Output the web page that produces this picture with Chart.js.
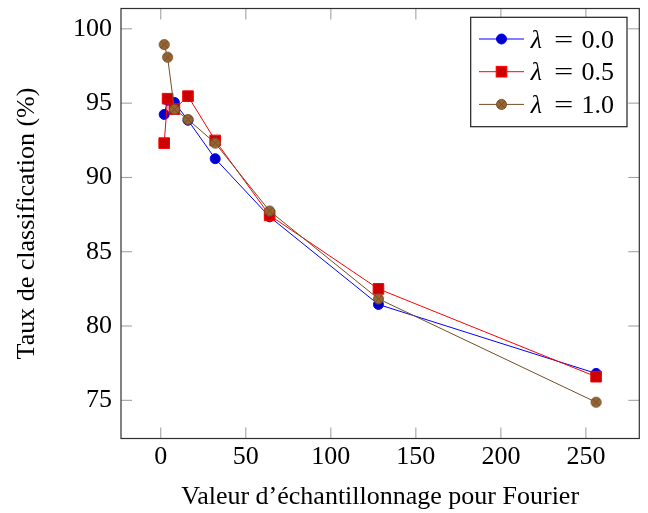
<!DOCTYPE html>
<html>
<head>
<meta charset="utf-8">
<script src="https://cdn.jsdelivr.net/npm/chart.js@4.4.1/dist/chart.umd.min.js"></script>
<style>
html,body{margin:0;padding:0;background:#fff;}
#wrap{width:648px;height:513px;}
</style>
</head>
<body>
<div id="wrap"><canvas id="c" width="648" height="513"></canvas></div>
<script>
const xValues = [2, 4, 8, 16, 32, 64, 128, 256];
const lambda00 = [94.24, 95.2, 95.05, 93.85, 91.26, 87.35, 81.45, 76.81];
const lambda05 = [92.31, 95.30, 94.6, 95.47, 92.49, 87.45, 82.50, 76.59];
const lambda10 = [98.94, 98.09, 94.58, 93.90, 92.31, 87.74, 81.83, 74.87];
const seriesLabels = ['λ = 0.0', 'λ = 0.5', 'λ = 1.0'];
const xTicks = [0, 50, 100, 150, 200, 250];
const yTicks = [75, 80, 85, 90, 95, 100];
const xTitle = 'Valeur d\u2019échantillonnage pour Fourier';
const yTitle = 'Taux de classification (%)';

const FONT = 'Liberation Serif';

function otimes(r, fill, stroke) {
  const s = Math.ceil(2 * r + 3);
  const cv = document.createElement('canvas');
  cv.width = s; cv.height = s;
  const g = cv.getContext('2d');
  const c = s / 2;
  g.beginPath(); g.arc(c, c, r, 0, Math.PI * 2);
  g.fillStyle = fill; g.fill();
  g.lineWidth = 1; g.strokeStyle = stroke; g.stroke();
  const d = r * Math.SQRT1_2;
  g.beginPath();
  g.moveTo(c - d, c - d); g.lineTo(c + d, c + d);
  g.moveTo(c - d, c + d); g.lineTo(c + d, c - d);
  g.stroke();
  return cv;
}
const brownMark = otimes(5, '#996633', '#734D26');

function pts(ys) { return xValues.map((x, i) => ({x: x, y: ys[i]})); }

function noPad(s) { s.paddingTop = 0; s.paddingBottom = 0; s.paddingLeft = 0; s.paddingRight = 0; }

const framePlugin = {
  id: 'frame',
  beforeDatasetsDraw(chart) {
    const {ctx, chartArea: a, scales} = chart;
    ctx.save();
    ctx.strokeStyle = '#9a9a9a';
    ctx.lineWidth = 1;
    const tl = 11;
    ctx.beginPath();
    scales.x.ticks.forEach(t => {
      const px = scales.x.getPixelForValue(t.value);
      ctx.moveTo(px, a.bottom); ctx.lineTo(px, a.bottom - tl);
      ctx.moveTo(px, a.top); ctx.lineTo(px, a.top + tl);
    });
    scales.y.ticks.forEach(t => {
      const py = scales.y.getPixelForValue(t.value);
      ctx.moveTo(a.left, py); ctx.lineTo(a.left + tl, py);
      ctx.moveTo(a.right, py); ctx.lineTo(a.right - tl, py);
    });
    ctx.stroke();
    ctx.strokeStyle = '#303030';
    ctx.lineWidth = 1.2;
    ctx.strokeRect(a.left, a.top, a.right - a.left, a.bottom - a.top);
    ctx.restore();
  },
  afterDatasetsDraw(chart) {
    const {ctx} = chart;
    const bx = 470.7, by = 17.3, bw = 156.3, bh = 109.4;
    ctx.save();
    ctx.fillStyle = '#ffffff';
    ctx.fillRect(bx, by, bw, bh);
    ctx.strokeStyle = '#202020';
    ctx.lineWidth = 1.2;
    ctx.strokeRect(bx, by, bw, bh);
    const rowH = 32.7;
    chart.data.datasets.forEach((ds, i) => {
      const cy = by + 21.7 + i * rowH;
      ctx.strokeStyle = ds.borderColor;
      ctx.lineWidth = 1;
      ctx.beginPath(); ctx.moveTo(479, cy); ctx.lineTo(524, cy); ctx.stroke();
      const mx = 501.5;
      const st = ds.pointStyle;
      if (st === 'circle') {
        ctx.beginPath(); ctx.arc(mx, cy, ds.pointRadius, 0, Math.PI * 2);
        ctx.fillStyle = ds.pointBackgroundColor; ctx.fill();
        ctx.strokeStyle = ds.pointBorderColor; ctx.stroke();
      } else if (st === 'rect') {
        const h = ds.pointRadius * Math.SQRT1_2;
        ctx.fillStyle = ds.pointBackgroundColor;
        ctx.fillRect(mx - h, cy - h, 2 * h, 2 * h);
        ctx.strokeStyle = ds.pointBorderColor;
        ctx.strokeRect(mx - h, cy - h, 2 * h, 2 * h);
      } else {
        ctx.drawImage(st, mx - st.width / 2, cy - st.height / 2);
      }
      const lab = ds.label;
      const sym = lab.charAt(0);
      const rest = lab.slice(1).trim().split(' ');
      ctx.fillStyle = '#000';
      ctx.textBaseline = 'alphabetic';
      const base = cy + 8.5;
      ctx.font = 'italic 26px "' + FONT + '"';
      let x = 530.7;
      ctx.fillText(sym, x, base);
      x = 554;
      ctx.font = '26px "' + FONT + '"';
      ctx.save();
      ctx.translate(x, base);
      const ew = ctx.measureText(rest[0]).width;
      ctx.scale(19.3 / ew, 1);
      ctx.fillText(rest[0], 0, 0);
      ctx.restore();
      x = 581.5;
      ctx.fillText(rest[1], x, base);
    });
    ctx.restore();
  }
};

new Chart(document.getElementById('c'), {
  type: 'line',
  data: {
    datasets: [
      {
        label: seriesLabels[0], data: pts(lambda00), order: 3,
        borderColor: '#0000FF', borderWidth: 1,
        pointStyle: 'circle', pointRadius: 5, pointBorderWidth: 1,
        pointBackgroundColor: '#0000CC', pointBorderColor: '#0000FF'
      },
      {
        label: seriesLabels[1], data: pts(lambda05), order: 2,
        borderColor: '#FF0000', borderWidth: 1,
        pointStyle: 'rect', pointRadius: 7.5, pointBorderWidth: 1,
        pointBackgroundColor: '#CC0000', pointBorderColor: '#FF0000'
      },
      {
        label: seriesLabels[2], data: pts(lambda10), order: 1,
        borderColor: '#734D26', borderWidth: 1,
        pointStyle: brownMark, pointRadius: 5, pointBorderWidth: 1,
        pointBackgroundColor: '#996633', pointBorderColor: '#734D26'
      }
    ]
  },
  options: {
    responsive: false,
    animation: false,
    events: [],
    layout: {padding: {left: 0, top: 8, right: 8.7, bottom: 0}},
    plugins: {legend: {display: false}, tooltip: {enabled: false}},
    elements: {line: {tension: 0}},
    scales: {
      x: {
        type: 'linear', position: 'bottom', min: -23.4, max: 281.4,
        afterBuildTicks: s => { s.ticks = xTicks.map(v => ({value: v})); },
        afterFit: s => { s.height = 74.5; noPad(s); },
        grid: {display: false, drawTicks: false},
        border: {display: false},
        ticks: {color: '#000', padding: 6, font: {family: FONT, size: 26, lineHeight: 1}},
        title: {display: true, text: xTitle, color: '#000', padding: {top: 0, bottom: 3},
                font: {family: FONT, size: 26, lineHeight: 1}}
      },
      y: {
        type: 'linear', position: 'left', min: 72.43, max: 101.37,
        afterBuildTicks: s => { s.ticks = yTicks.map(v => ({value: v})); },
        afterFit: s => { s.width = 121; noPad(s); },
        grid: {display: false, drawTicks: false},
        border: {display: false},
        ticks: {color: '#000', padding: 9, font: {family: FONT, size: 26, lineHeight: 1}},
        title: {display: true, text: yTitle, color: '#000', padding: {top: 14, bottom: 0},
                font: {family: FONT, size: 26, lineHeight: 1}}
      }
    }
  },
  plugins: [framePlugin]
});
</script>
</body>
</html>
